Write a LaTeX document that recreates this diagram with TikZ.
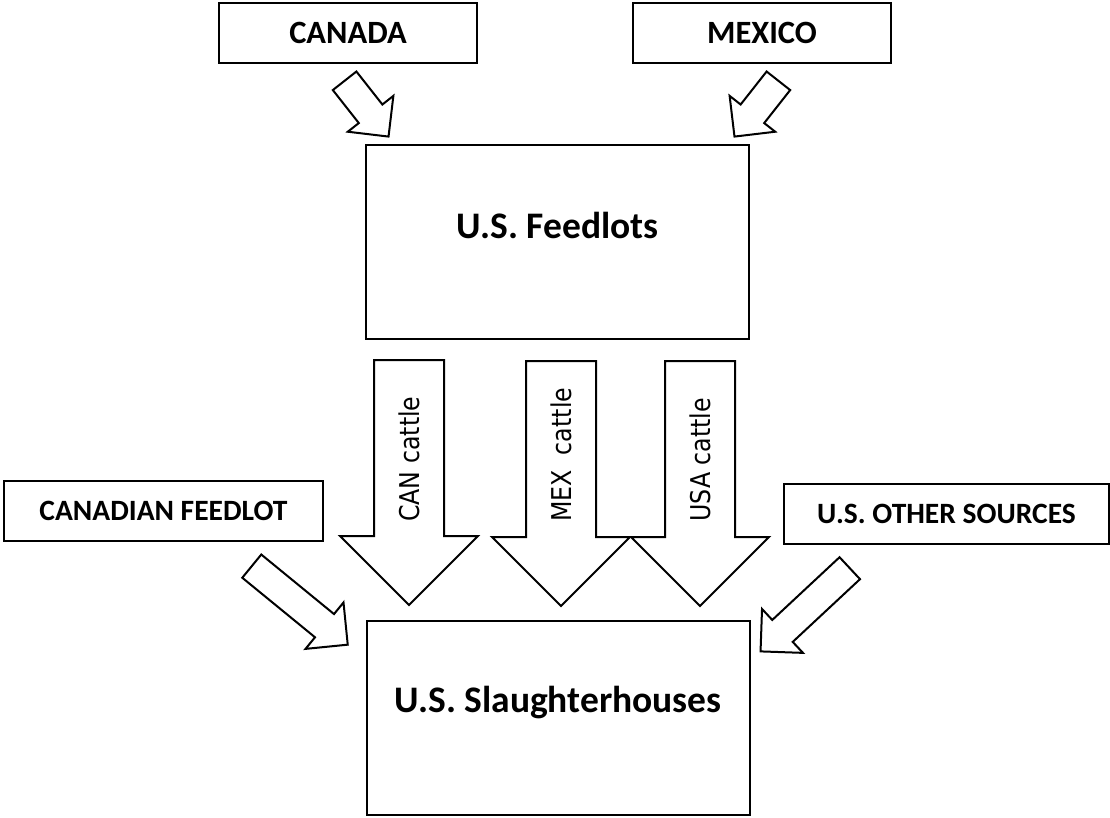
\documentclass[tikz,border=0pt]{standalone}
\usepackage{fontspec}
\setmainfont{Carlito}
\newfontfamily\cattlefont{DejaVu Sans}
\usetikzlibrary{shapes.arrows}

\newcommand{\tallcattle}[1]{\scalebox{1}[1.15]{#1}}

\tikzset{
    box/.style={draw, line width=2pt, inner sep=0pt},
    smallbox/.style={box, minimum height=60pt, font=\fontsize{29.5}{35}\selectfont\bfseries},
    bigbox/.style={box, minimum width=383pt, minimum height=194pt, font=\fontsize{37.5}{45}\selectfont\bfseries},
    flow/.style={single arrow, draw, line width=2pt, inner xsep=0pt, anchor=tail},
    cattle/.style={rotate=90, anchor=west, inner sep=0pt, font=\cattlefont\fontsize{23.7}{28}\selectfont}
}

\begin{document}
\begin{tikzpicture}[x=1pt, y=-1pt]
            \useasboundingbox (0,0) rectangle (1110,817);

            \node[smallbox, minimum width=258pt, font=\fontsize{32.5}{38}\selectfont\bfseries] (canada) at (348,33) {CANADA};
            \node[smallbox, minimum width=258pt, font=\fontsize{32.5}{38}\selectfont\bfseries] (mexico) at (762,33) {MEXICO};
            \node[bigbox, text depth=34pt] (feedlots) at (557.5,242) {U.S. Feedlots};
            \node[smallbox, minimum width=319pt] (canfeedlot) at (163.5,511) {CANADIAN FEEDLOT};
            \node[smallbox, minimum width=325pt] (othersources) at (946.5,514) {U.S. OTHER SOURCES};
            \node[bigbox, text depth=38pt] (slaughter) at (558,718) {U.S. Slaughterhouses};

            \node[flow, rotate=-51.8, minimum height=71pt, inner ysep=14pt, single arrow head extend=14pt] (canin) at (344,80) {};
            \node[flow, rotate=-128.2, minimum height=71pt, inner ysep=14pt, single arrow head extend=14pt] (mexin) at (779,80) {};

            \node[flow, rotate=-90, minimum height=245pt, inner ysep=34pt, single arrow head extend=34pt] (canflow) at (409,359) {};
            \node[flow, rotate=-90, minimum height=245pt, inner ysep=34pt, single arrow head extend=34pt] (mexflow) at (561,360) {};
            \node[flow, rotate=-90, minimum height=245pt, inner ysep=34pt, single arrow head extend=34pt] (usaflow) at (700,360) {};
            \node[cattle] (canlabel) at (409,522) {\tallcattle{CAN cattle}};
            \node[cattle] (mexlabel) at (561,522) {\tallcattle{MEX\ \ cattle}};
            \node[cattle] (usalabel) at (700,522) {\tallcattle{USA cattle}};

            \node[flow, rotate=-39.3, minimum height=124pt, inner ysep=14pt, single arrow head extend=15pt] (feedlotin) at (251,565.5) {};
            \node[flow, rotate=-137, minimum height=122pt, inner ysep=14pt, single arrow head extend=15pt] (otherin) at (850.5,567.5) {};
        \end{tikzpicture}
\end{document}
